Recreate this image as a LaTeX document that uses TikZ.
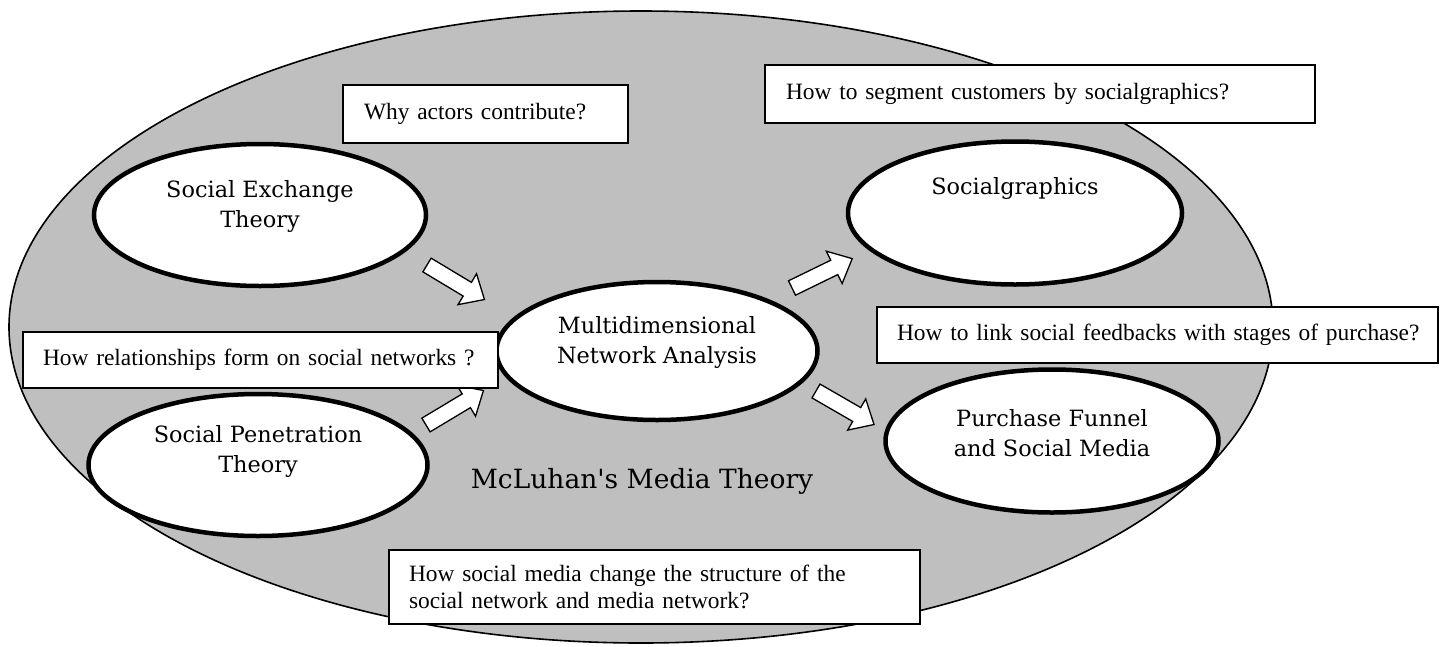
\documentclass[tikz,border=0pt]{standalone}
\usepackage{fontspec}
\setmainfont{Liberation Serif}
\newfontfamily\theoryfont{DejaVu Serif}
\usetikzlibrary{shapes.geometric}
\definecolor{fieldgray}{RGB}{191,191,191}

\tikzset{
  field/.style={draw=black, line width=1.6pt, fill=fieldgray},
  theory/.style={ellipse, draw=black, line width=4.5pt, fill=white, inner sep=0pt},
  theorytext/.style={font=\theoryfont\fontsize{22.4}{30}\selectfont, align=center, inner sep=0pt},
  qbox/.style={draw=black, line width=1.4pt, fill=white, inner xsep=20pt, inner ysep=0pt,
    align=left, font=\fontsize{23.4}{27}\selectfont},
  blockarrow/.style={draw=black, line width=1.3pt, fill=white, line join=miter},
  barrow/.pic={\draw[blockarrow] (0,-8) -- (47,-8) -- (47,-18) -- (67,0) -- (47,18) -- (47,8) -- (0,8) -- cycle;}
}

\begin{document}
\begin{tikzpicture}[x=1pt,y=-1pt]
\useasboundingbox (0,0) rectangle (1441,646);

% the surrounding field of McLuhan's media theory
\draw[field] (641,327) ellipse [x radius=632pt, y radius=316pt];
\node[font=\theoryfont\fontsize{26.5}{32}\selectfont, inner sep=0pt] (mcluhan) at (642,481) {McLuhan's Media Theory};

% theories
\node[theory, minimum width=332pt, minimum height=142pt] (exchange) at (260,215) {};
\node[theorytext] (exchangetxt) at (260,206) {Social Exchange\\Theory};

\node[theory, minimum width=339pt, minimum height=142pt] (penetration) at (258,465) {};
\node[theorytext] (penetrationtxt) at (258,451) {Social Penetration\\Theory};

\node[theory, minimum width=321pt, minimum height=138pt] (mna) at (657,351) {};
\node[theorytext] (mnatxt) at (657,342) {Multidimensional\\Network Analysis};

\node[theory, minimum width=334pt, minimum height=143pt] (socialgraphics) at (1015,213) {};
\node[theorytext] (socialgraphicstxt) at (1015,188) {Socialgraphics};

\node[theory, minimum width=333pt, minimum height=143pt] (funnel) at (1052,441) {};
\node[theorytext] (funneltxt) at (1052,433) {Purchase Funnel\\and Social Media};

% block arrows between the theories
\coordinate (a1) at (427,265);
\coordinate (a2) at (426,425);
\coordinate (a3) at (792,288);
\coordinate (a4) at (816,391);
\pic[rotate=-31] at (a1) {barrow};
\pic[rotate=31] at (a2) {barrow};
\pic[rotate=26] at (a3) {barrow};
\pic[rotate=-30] at (a4) {barrow};

% research questions
\node[qbox, minimum width=285pt, minimum height=58pt, text width=243pt] (why) at (485.5,114) {Why actors contribute?};
\node[qbox, minimum width=550pt, minimum height=58pt, text width=508pt] (segment) at (1040,94) {\mbox{How to segment customers by socialgraphics?}};
\node[qbox, minimum width=475pt, minimum height=56pt, text width=435pt] (relations) at (260.5,360) {\mbox{How relationships form on social networks ?}};
\node[qbox, minimum width=561pt, minimum height=56pt, text width=521pt] (feedback) at (1157.5,335) {\mbox{How to link social feedbacks with stages of purchase?}};
\node[qbox, minimum width=531pt, minimum height=74pt, text width=491pt] (structure) at (654.5,587) {How social media change the structure of the\\social network and media network?};
\end{tikzpicture}
\end{document}
